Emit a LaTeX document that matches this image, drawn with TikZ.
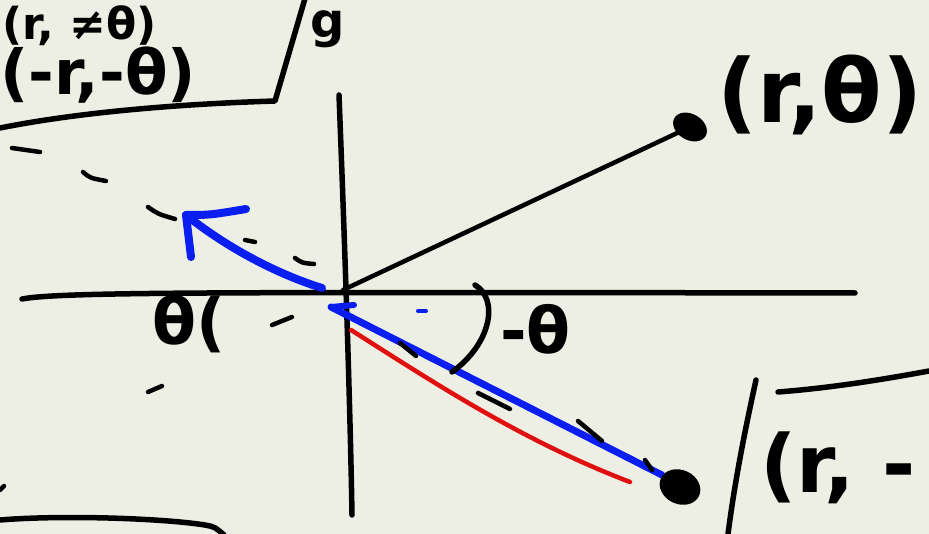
\documentclass[tikz,border=0pt]{standalone}
\usepackage{fontspec}
\setmainfont{DejaVu Sans}
\usetikzlibrary{arrows.meta}
\definecolor{paper}{HTML}{EDEEE4}
\definecolor{penblue}{HTML}{0A1EF0}
\definecolor{penred}{HTML}{E01010}
\tikzset{
  ink/.style={line width=5.5pt, line cap=round, line join=round, black},
  thin ink/.style={line width=4.5pt, line cap=round, black},
  dashmark/.style={line width=4.5pt, line cap=round, black},
  blue ink/.style={line width=8pt, line cap=round, line join=round, penblue},
  red ink/.style={line width=4.5pt, line cap=round, penred},
  hand/.style={inner sep=0pt, font=\fontsize{56}{60}\selectfont},
}
\begin{document}
\begin{tikzpicture}[x=1pt,y=-1pt]
\useasboundingbox (0,0) rectangle (929,534);
\fill[paper] (0,0) rectangle (929,534);
\clip (0,0) rectangle (929,534);

% key points
\coordinate (O) at (343,290);
\coordinate (P) at (690,127);
\coordinate (Q) at (680,487);
\coordinate (A) at (186,215);

% top-left boxed note
\node[hand, font=\fontsize{44}{48}\bfseries\selectfont, anchor=base west] (t1) at (2,40) {(r, ≠θ)};
\node[hand, font=\fontsize{62}{66}\bfseries\selectfont, anchor=base west] (t2) at (0,95) {(-r,-θ)};
\node[hand, font=\fontsize{48}{52}\bfseries\selectfont, anchor=base west] (t3) at (310,38) {g};
\draw[ink] (0,128) .. controls (80,112) and (180,104) .. (275,101) -- (306,-5);

% axes
\draw[ink] (22,299) .. controls (60,292) and (200,292) .. (855,293);
\draw[ink] (339,95) .. controls (345,250) and (350,400) .. (352,515);

% (r,theta) ray and point
\draw[thin ink] (O) -- (P);
\fill[black, rotate around={-30:(P)}] (P) ellipse (18pt and 13pt);
\node[hand, font=\fontsize{88}{92}\bfseries\selectfont, anchor=center] (lab1) at (820,95) {(r,θ)};

% dashed extension to upper left
\draw[dashmark] (12,148) -- (40,152);
\draw[dashmark] (83,172) .. controls (90,178) .. (106,181);
\draw[dashmark] (148,207) .. controls (158,214) .. (175,219);
\draw[dashmark] (245,240) -- (255,242);
\draw[dashmark] (295,258) .. controls (302,263) .. (314,264);

% blue arrow to upper left
\draw[blue ink] (322,288) .. controls (280,275) and (230,250) .. (A);
\draw[blue ink] (A) -- (191,257);
\draw[blue ink] (A) .. controls (210,215) .. (246,209);

% theta label left
\node[hand, font=\fontsize{64}{68}\bfseries\selectfont, anchor=base west] (lab2) at (152,345) {θ(};

% scattered dashes lower left
\draw[dashmark] (272,325) -- (292,317);
\draw[dashmark] (148,392) -- (162,386);
\draw[dashmark] (0,490) -- (4,486);

% red ray
\draw[red ink] (351,330) .. controls (430,380) and (520,440) .. (630,482);

% blue ray with small head at origin
\draw[blue ink, line width=7pt] (331,307) -- (662,475);
\draw[blue ink, line width=6pt] (331,307) -- (354,305);
\draw[penblue, line width=4pt, line cap=round] (418,311) -- (426,311);

% dashes along the lower ray
\draw[dashmark] (400,343) -- (416,356);
\draw[dashmark] (478,393) -- (510,409);
\draw[dashmark] (578,421) -- (602,441);
\draw[dashmark] (645,460) -- (652,470);

% angle arc and -theta label
\draw[ink] (475,285) .. controls (500,300) and (490,345) .. (452,372);
\node[hand, font=\fontsize{64}{68}\bfseries\selectfont, anchor=base west] (lab3) at (500,354) {-θ};

% lower point
\fill[black, rotate around={-25:(Q)}] (Q) ellipse (21pt and 17pt);

% bottom-right box and label
\draw[ink] (756,380) .. controls (745,430) and (735,480) .. (728,534);
\draw[ink] (778,392) .. controls (830,388) and (880,380) .. (929,371);
\node[hand, font=\fontsize{80}{84}\bfseries\selectfont, anchor=base west] (lab4) at (760,492) {(r, -};

% bottom-left curve
\draw[ink] (0,520) .. controls (60,515) and (160,518) .. (205,525) .. controls (215,527) .. (224,535);
\end{tikzpicture}
\end{document}
